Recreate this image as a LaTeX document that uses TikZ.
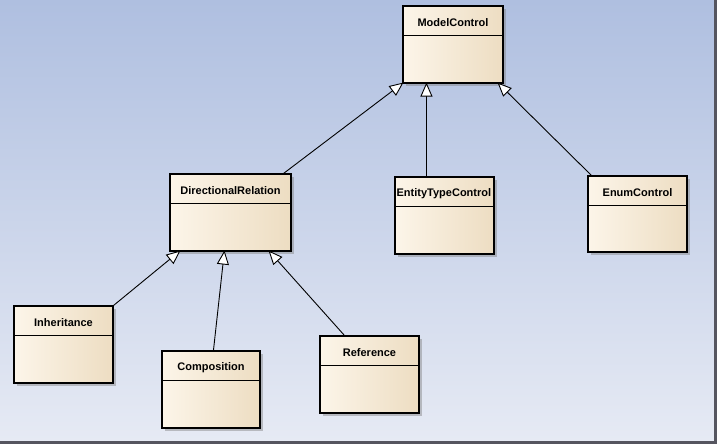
\documentclass[tikz,border=0pt]{standalone}
\usepackage{fontspec}
\setmainfont{Liberation Sans}
\usetikzlibrary{arrows.meta,shadows,calc}
\definecolor{bgtop}{HTML}{AFBFE0}
\definecolor{bgbot}{HTML}{E6EAF4}
\definecolor{boxl}{HTML}{FCF5E9}
\definecolor{boxr}{HTML}{EDDDC2}
\definecolor{frame}{HTML}{55555F}
\tikzset{
  umlbox/.style={draw=black, line width=1.1pt, left color=boxl, right color=boxr,
    minimum width=#1, minimum height=77pt, inner sep=0pt,
    drop shadow={shadow xshift=3pt, shadow yshift=-3pt, opacity=0.45, fill=gray}},
  umltitle/.style={font=\bfseries\fontsize{11}{12}\selectfont, inner sep=0pt},
  divider/.style={line width=1pt},
  gen/.style={line width=0.9pt, -{Triangle[open, fill=white, length=14pt, width=12pt]}}
}
\begin{document}
\begin{tikzpicture}[x=1pt,y=-1pt]
\useasboundingbox (0,0) rectangle (717,444);
\shade[top color=bgtop, bottom color=bgbot] (0,0) rectangle (714,441);
\fill[frame] (714,0) rectangle (717,444);
\fill[frame] (0,441) rectangle (717,444);

% boxes
\node[umlbox=100pt] (mc) at (453,44.5) {};
\node[umlbox=121pt] (dr) at (230.5,212.5) {};
\node[umlbox=99pt] (et) at (444.5,215.5) {};
\node[umlbox=99pt, minimum height=76pt] (en) at (637.5,214) {};
\node[umlbox=99pt] (in) at (63.5,344.5) {};
\node[umlbox=98pt] (co) at (211,389.5) {};
\node[umlbox=99pt] (re) at (369.5,374.5) {};

% dividers
\foreach \n in {mc,dr,et,en,in,co,re}{
  \draw[divider] ($(\n.north west)+(0,30)$) -- ($(\n.north east)+(0,30)$);
}

% titles
\node[umltitle] (mct) at ($(mc.north)+(0,17)$) {ModelControl};
\node[umltitle] (drt) at ($(dr.north)+(0,17)$) {DirectionalRelation};
\node[umltitle, anchor=west] (ett) at ($(et.north west)+(2,17)$) {EntityTypeControl};
\node[umltitle] (ent) at ($(en.north)+(0,17)$) {EnumControl};
\node[umltitle] (int) at ($(in.north)+(0,17)$) {Inheritance};
\node[umltitle] (cot) at ($(co.north)+(0,17)$) {Composition};
\node[umltitle] (ret) at ($(re.north)+(0,17)$) {Reference};

% generalizations
\draw[gen] ($(dr.north east)+(-8,0)$) -- ($(mc.south west)+(1,-1)$);
\draw[gen] ($(et.north west)+(32,0)$) -- ($(mc.south west)+(24,-1)$);
\draw[gen] ($(en.north west)+(4,0)$) -- ($(mc.south east)+(-6,-1)$);
\draw[gen] (in.north east) -- ($(dr.south west)+(11,-1)$);
\draw[gen] ($(co.north west)+(52,0)$) -- ($(dr.south west)+(55,-1)$);
\draw[gen] ($(re.north west)+(25,0)$) -- ($(dr.south east)+(-23,-1)$);
\end{tikzpicture}
\end{document}
